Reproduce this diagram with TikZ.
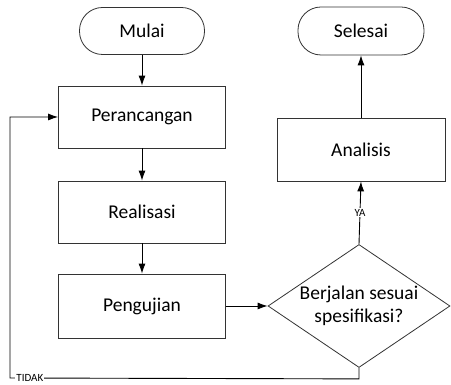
\documentclass[tikz,border=0pt]{standalone}
\usepackage{fontspec}
\setmainfont{Carlito}
\usetikzlibrary{arrows.meta,positioning,calc,shapes.geometric}
\tikzset{
  flowbox/.style={
    rectangle,
    draw=black!80,
    fill=white,
    line width=0.8pt,
    align=center,
    minimum width=167pt,
    minimum height=62pt,
    inner sep=2pt,
    font=\fontsize{19.5}{22}\selectfont
  },
  flowterm/.style={
    rectangle,
    rounded corners=23pt,
    draw=black!80,
    fill=white,
    line width=0.8pt,
    align=center,
    minimum width=125pt,
    minimum height=47pt,
    font=\fontsize{19.5}{22}\selectfont
  },
  flowdecide/.style={
    diamond,
    aspect=1.48,
    draw=black!80,
    fill=white,
    line width=0.8pt,
    align=center,
    inner sep=0pt,
    minimum width=182pt,
    minimum height=123pt,
    font=\fontsize{19.5}{23}\selectfont
  },
  flowarrow/.style={
    -{Latex[length=10pt,width=7pt]},
    line width=0.9pt,
    draw=black
  },
  flowline/.style={
    line width=0.8pt,
    draw=black
  },
  flowlabel/.style={
    font=\fontsize{11}{12}\selectfont,
    fill=white,
    inner sep=1pt
  }
}
\begin{document}
\begin{tikzpicture}
  \useasboundingbox (0,0) rectangle (451pt,385pt);
  \node[flowterm] (mulai) at (142pt,354pt) {Mulai};
  \node[flowbox] (rancang) at (142pt,268pt) {Perancangan};
  \node[flowbox] (realisasi) at (142pt,173pt) {Realisasi};
  \node[flowbox,minimum height=64pt] (uji) at (142pt,79pt) {Pengujian};
  \node[flowdecide] (sesuai) at (359pt,79pt) {Berjalan sesuai\\spesifikasi?};
  \node[flowbox,minimum width=168pt,minimum height=63pt] (analisis) at (361pt,235.5pt) {Analisis};
  \node[flowterm,minimum width=126pt,minimum height=48pt] (selesai) at (361pt,354pt) {Selesai};

  \draw[flowarrow] (mulai.south) -- (rancang.north);
  \draw[flowarrow] (rancang.south) -- (realisasi.north);
  \draw[flowarrow] (realisasi.south) -- (uji.north);
  \draw[flowarrow] (uji.east) -- (sesuai.west);
  \draw[flowarrow] (sesuai.north) -- node[flowlabel] {YA} (analisis.south);
  \draw[flowarrow] (analisis.north) -- (selesai.south);

  % cabang TIDAK kembali ke perancangan lewat sisi kiri
  \coordinate (tidakbawah) at ($(sesuai.south)+(0,-11pt)$);
  \coordinate (tidakkiri) at (10pt,7pt);
  \draw[flowarrow] (sesuai.south) -- (tidakbawah) -- (tidakkiri)
    node[flowlabel,anchor=west,xshift=5pt,pos=1] {TIDAK}
    |- (rancang.west);
\end{tikzpicture}
\end{document}
